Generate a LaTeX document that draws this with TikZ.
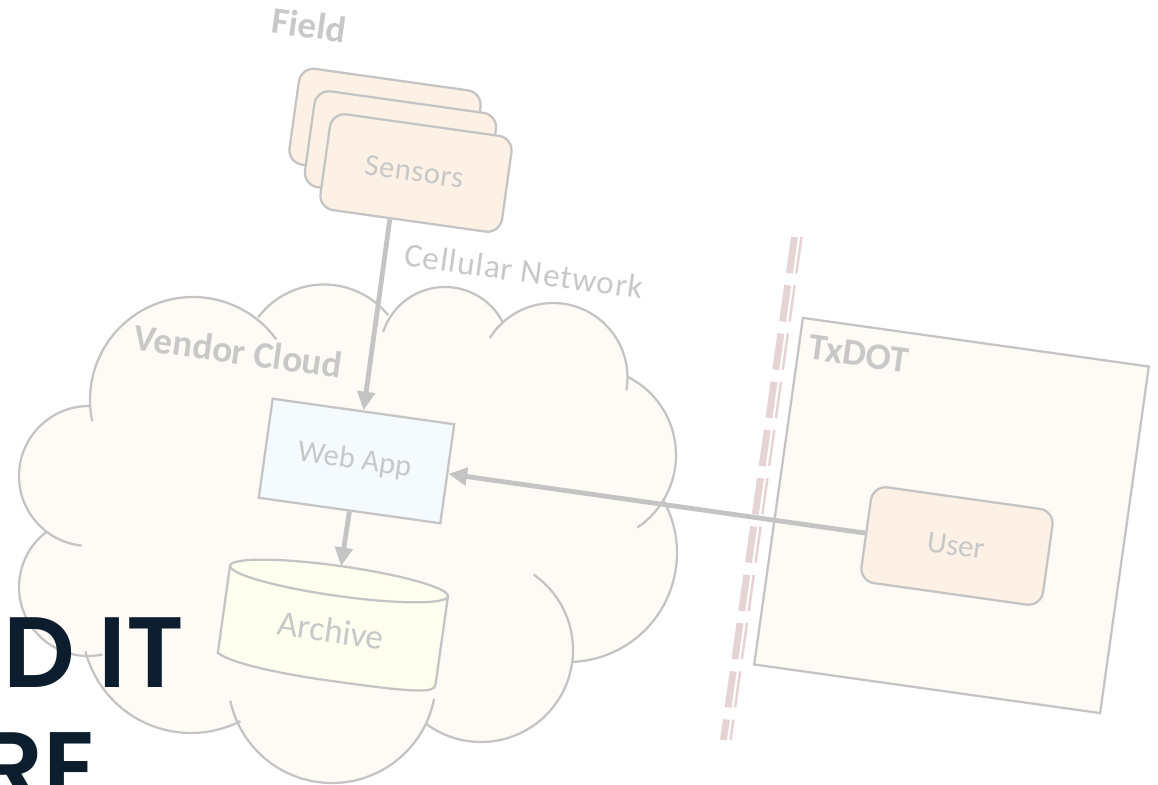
\documentclass[tikz,border=0pt]{standalone}
\usepackage{fontspec}
\setmainfont{Carlito}
\newfontfamily\titlefont{Poppins SemiBold}
\usetikzlibrary{calc,arrows.meta}
\definecolor{lineg}{HTML}{C4C4C4}
\definecolor{textg}{HTML}{C8C8C8}
\definecolor{cloudf}{HTML}{FEFBF7}
\definecolor{warmf}{HTML}{FDF1E6}
\definecolor{bluef}{HTML}{F4FAFD}
\definecolor{yellf}{HTML}{FEFFEE}
\definecolor{pinkd}{HTML}{E6D3D4}
\definecolor{titlec}{HTML}{0C1E2E}
\tikzset{
  box/.style={draw=lineg,line width=1.7pt,rotate=-8,minimum width=137.5pt,minimum height=72.5pt,inner sep=0pt,text=textg,font=\fontsize{23}{26}\selectfont},
  warmbox/.style={box,fill=warmf,rounded corners=11pt},
  lbl/.style={text=textg,rotate=-8,inner sep=0pt,font=\fontsize{25}{28}\selectfont},
  blbl/.style={lbl,font=\fontsize{28}{30}\selectfont\bfseries},
  flow/.style={draw=lineg,line width=3.6pt,-{Triangle[length=14pt,width=13pt]}},
  title/.style={text=titlec,inner sep=0pt,font=\titlefont\fontsize{75}{80}\selectfont},
  lobe/.style={draw=lineg,line width=1.7pt},
  barrier/.style={draw=pinkd,dash pattern=on 27.4pt off 9.15pt}
}
\begin{document}
\begin{tikzpicture}[x=.75pt,y=.75pt,yscale=-1]
\useasboundingbox (0,0) rectangle (1158,785);
\clip (0,0) rectangle (1158,785);
% cloud fill
\fill[cloudf] (90,420) -- (200,330) -- (450,330) -- (620,400) -- (650,560) -- (480,720) -- (330,750) -- (190,700) -- (60,640) -- (40,520) -- cycle;
\foreach \cx/\cy/\r in {193/400/103,324/367/82.5,445/352/65,553/377.5/74.5,588.6/455/87.4,568/553/109,481/650/92,332/679/104,191/624/109,88/587/69,89/476/70}
  \fill[cloudf] (\cx,\cy) circle[radius=\r];
% cloud outline
\foreach \cx/\cy/\r/\a/\b in {193/400/103/168/324,324/367/82.5/217/321,445/352/65/198/333,553/377.5/74.5/212/370,588.6/455/87.4/297/416,568/553/109/-29/88,481/650/92/-55/127,332/679/104/11/168,191/624/109/63/165.5,88/587/69/78/233.5,89/476/70/96/270}
  \draw[lobe] (\cx,\cy) ++(\a:\r) arc[start angle=\a,end angle=\b,radius=\r];
% TxDOT
\node[box,fill=cloudf,minimum width=262pt,minimum height=262.5pt] (txdot) at (951.5,515.5) {};
% barrier
\coordinate (bt) at (794.5,237);
\coordinate (bb) at (723.5,740);
\coordinate (ct) at (801.5,237);
\coordinate (cb) at (730.5,740);
\draw[barrier,line width=5.2pt] (bt) -- (bb);
\draw[barrier,line width=1.9pt] (ct) -- (cb);
% sensors
\node[warmbox] (s3) at (385,127.5) {};
\node[warmbox] (s2) at (400.5,150) {};
\node[warmbox] (sensors) at (416,173) {\addfontfeatures{LetterSpace=2}\raisebox{2pt}{Sensors}\hspace*{3pt}};
% web app
\node[box,fill=bluef,minimum height=75pt] (webapp) at (356.5,461) {Web App\hspace*{3pt}};
% user
\node[warmbox] (user) at (957,546) {\hspace*{-2pt}User};
% archive
\begin{scope}[shift={(339,581)},rotate=8]
  \draw[lobe,fill=yellf] (-110,0) -- (-110,88) .. controls (-95,97) and (-40,100) .. (0,100) .. controls (50,100) and (90,100) .. (105,95) .. controls (108,94) and (110,92) .. (110,88) -- (110,0) -- cycle;
  \draw[lobe,fill=yellf] (0,0) ellipse[x radius=110,y radius=15];
  \coordinate (rim) at (0,-15);
  \node[rotate=-8,text=textg,inner sep=0pt,font=\fontsize{26.5}{28}\selectfont] (archive) at (-1,50) {Archive};
\end{scope}
% connectors
\draw[flow] ($(sensors.south west)!.395!(sensors.south east)$) -- (webapp.north);
\draw[flow] (webapp.south) -- (rim);
\draw[flow] (user.west) -- (webapp.east);
% labels
\node[blbl] (field) at (309,25) {Field};
\node[lbl] (cell) at (524,271) {\addfontfeatures{LetterSpace=3}Cellular Network};
\node[blbl] (vendor) at (238.5,351) {Vendor Cloud};
\node[blbl] (tx) at (859,354) {TxDOT};
% title
\node[title,anchor=base west] (t1) at (3,687) {D IT};
\node[title,anchor=base east] (t2) at (97,802) {RE};
\end{tikzpicture}
\end{document}
